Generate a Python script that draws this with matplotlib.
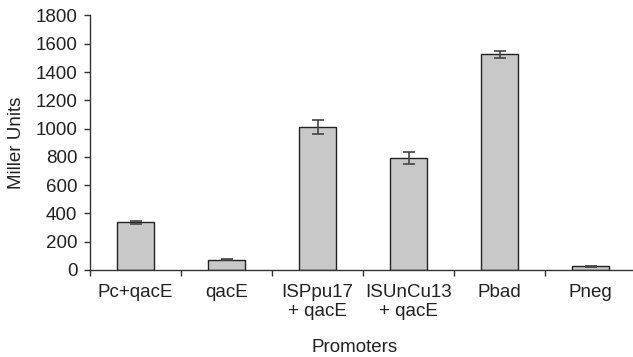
import numpy as np
import matplotlib.pyplot as plt

# Data
promoters = ['Pc+qacE', 'qacE', 'ISPpu17\n+ qacE', 'ISUnCu13\n+ qacE', 'Pbad', 'Pneg']
miller_units = [337, 73, 1011, 792, 1525, 26]
errors = [12, 5, 47, 42, 27, 3]

plt.rcParams['font.family'] = ['Liberation Sans', 'DejaVu Sans']
text_color = '#222222'
fs = 13.5

fig = plt.figure(figsize=(6.33, 3.57), dpi=100)
ax = fig.add_axes([90 / 633, 1 - 270 / 357, 546 / 633, 254.5 / 357])

x = np.arange(len(promoters))
ax.bar(x, miller_units, width=0.41, color='#c8c8c8', edgecolor='#222222', linewidth=1.0,
       yerr=errors, error_kw=dict(ecolor='#444444', elinewidth=1.2, capsize=4.5, capthick=1.2))

ax.set_xlim(-0.5, len(promoters) - 0.5)
ax.set_ylim(0, 1800)
ax.set_yticks(np.arange(0, 1801, 200))

# category labels between boundary ticks
ax.set_xticks(np.arange(len(promoters) + 1) - 0.5)
ax.set_xticklabels([])
ax.set_xticks(x, minor=True)
ax.set_xticklabels(promoters, minor=True, fontsize=fs, color=text_color)
ax.tick_params(axis='x', which='minor', length=0, pad=10)
ax.tick_params(axis='x', which='major', direction='out', length=4, width=1, color='#333333')
ax.tick_params(axis='y', direction='out', length=4, width=1, color='#333333',
               labelsize=fs, labelcolor=text_color, pad=5)

for side in ['top', 'right']:
    ax.spines[side].set_visible(False)
for side in ['left', 'bottom']:
    ax.spines[side].set_color('#333333')
    ax.spines[side].set_linewidth(1.0)

ax.set_ylabel('Miller Units', fontsize=fs, color=text_color)
ax.yaxis.set_label_coords(-0.119, 0.5)
ax.set_xlabel('Promoters', fontsize=fs, color=text_color)
ax.xaxis.set_label_coords(0.4846, -0.27)

fig.savefig('out.png', dpi=100)
